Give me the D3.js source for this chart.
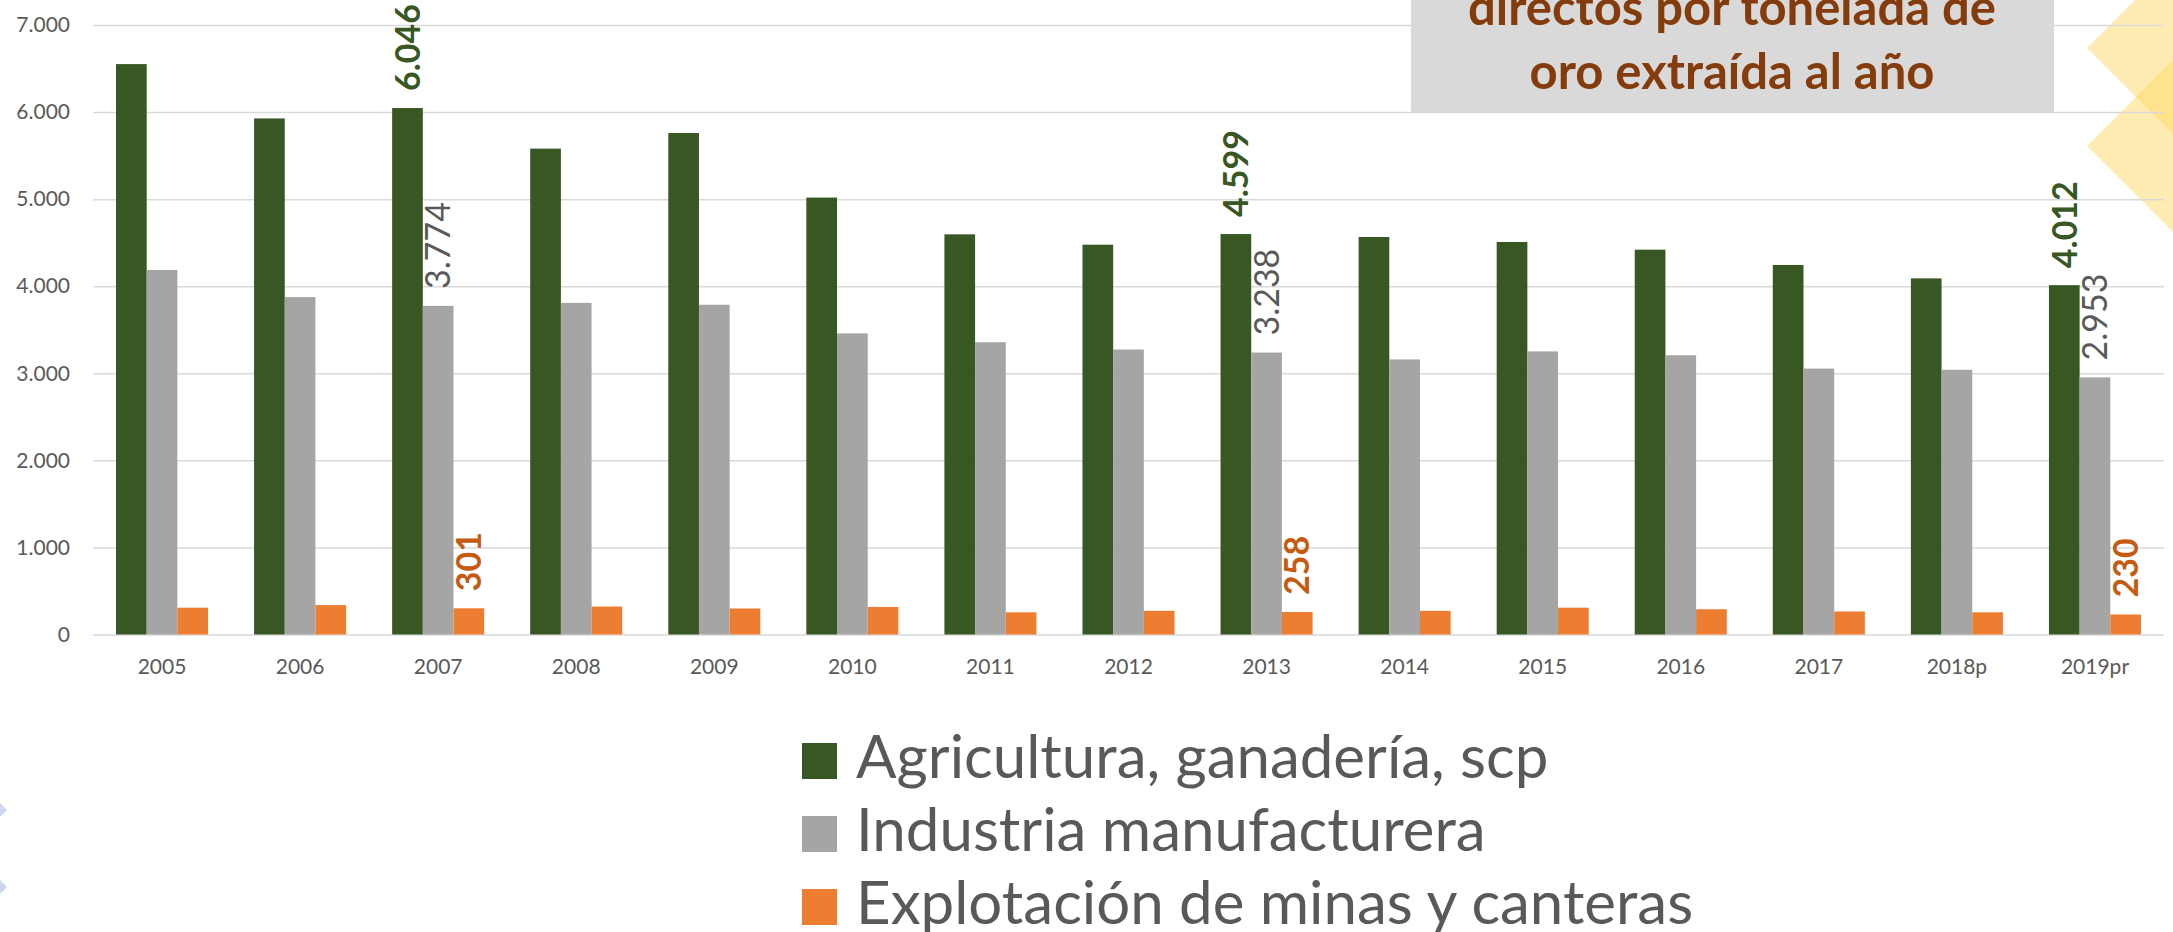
<!DOCTYPE html>
<html>
<head>
<meta charset="utf-8">
<script src="https://cdn.jsdelivr.net/npm/d3@7"></script>
<style>
  html, body { margin: 0; padding: 0; background: #fff; }
  svg { display: block; }
</style>
</head>
<body>
<div id="chart"></div>
<script>
var years = ["2005", "2006", "2007", "2008", "2009", "2010", "2011", "2012", "2013", "2014", "2015", "2016", "2017", "2018p", "2019pr"];
var agricultura = [6551, 5927, 6046, 5580, 5760, 5018, 4596, 4477, 4599, 4565, 4508, 4420, 4244, 4090, 4012];
var industria = [4187, 3875, 3774, 3809, 3787, 3458, 3357, 3273, 3238, 3159, 3251, 3207, 3054, 3040, 2953];
var mineria = [308, 338, 301, 321, 299, 316, 255, 272, 258, 272, 308, 290, 264, 255, 230];
var seriesNames = ["Agricultura, ganadería, scp", "Industria manufacturera", "Explotación de minas y canteras"];
var seriesColors = ["#385723", "#a5a5a5", "#ed7d31"];
var labelColors = ["#385723", "#595959", "#c55a11"];
var labelWeights = ["bold", "normal", "bold"];
var yTicks = [0, 1000, 2000, 3000, 4000, 5000, 6000, 7000];
var labeledYears = ["2007", "2013", "2019pr"];
var titleLines = ["directos por tonelada de", "oro extraída al año"];

var width = 2173,
    height = 932,
    plot = {left: 93, right: 2164, top: 25, bottom: 634.5};

var locale = d3.formatLocale({decimal: ",", thousands: ".", grouping: [3], currency: ["", ""]}),
    fmt = locale.format(",d");

var rows = years.map(function (y, i) {
  return {year: y, values: [agricultura[i], industria[i], mineria[i]]};
});

var svg = d3.select("#chart")
  .append("svg")
  .attr("width", width)
  .attr("height", height)
  .style("font-family", "Lato, 'Open Sans', sans-serif");

svg.append("rect").attr("width", width).attr("height", height).attr("fill", "#fff");

var x = d3.scaleBand()
  .domain(years)
  .range([plot.left, plot.right])
  .paddingInner(1 / 3)
  .paddingOuter(1 / 6);

var x1 = d3.scaleBand()
  .domain([0, 1, 2])
  .range([0, x.bandwidth()]);

var y = d3.scaleLinear()
  .domain([0, 7000])
  .range([plot.bottom, plot.top]);

// decorative diamonds (slide background)
var deco = svg.append("g");
[[2087, 48, 105], [2087, 146, 105]].forEach(function (d) {
  deco.append("path")
    .attr("d", "M" + d[0] + "," + d[1] + "l" + d[2] + "," + (-d[2]) + "l" + d[2] + "," + d[2] + "l" + (-d[2]) + "," + d[2] + "z")
    .attr("fill", "#ffd966")
    .attr("opacity", 0.5);
});
[[7, 810], [7, 887]].forEach(function (d) {
  deco.append("path")
    .attr("d", "M" + d[0] + "," + d[1] + "l-12,-12l-12,12l12,12z")
    .attr("fill", "#b4c7e7")
    .attr("opacity", 0.7);
});

// y axis + gridlines
var yAxis = svg.append("g")
  .attr("transform", "translate(" + plot.left + ",0)")
  .call(d3.axisLeft(y).tickValues(yTicks).tickFormat(fmt)
    .tickSize(-(plot.right - plot.left)).tickPadding(23));
yAxis.select(".domain").remove();
yAxis.selectAll(".tick line").attr("stroke", "#d9d9d9").attr("stroke-width", 1.5);
yAxis.selectAll(".tick text")
  .attr("fill", "#595959")
  .style("font-size", "21px")
  .style("font-family", "Lato, sans-serif");

var xAxis = svg.append("g")
  .attr("transform", "translate(0," + plot.bottom + ")")
  .call(d3.axisBottom(x).tickSize(0).tickPadding(25));
xAxis.select(".domain").remove();
xAxis.selectAll(".tick text")
  .attr("fill", "#595959")
  .style("font-size", "21px")
  .style("font-family", "Lato, sans-serif");

// bars
var groups = svg.append("g").selectAll("g")
  .data(rows)
  .enter().append("g")
  .attr("transform", function (d) { return "translate(" + x(d.year) + ",0)"; });

groups.selectAll("rect")
  .data(function (d) { return d.values.map(function (v, k) { return {k: k, v: v, year: d.year}; }); })
  .enter().append("rect")
  .attr("x", function (d) { return x1(d.k); })
  .attr("width", x1.bandwidth())
  .attr("y", function (d) { return y(d.v); })
  .attr("height", function (d) { return y(0) - y(d.v); })
  .attr("fill", function (d) { return seriesColors[d.k]; });

// data labels, rotated
groups.filter(function (d) { return labeledYears.indexOf(d.year) >= 0; })
  .selectAll("text")
  .data(function (d) { return d.values.map(function (v, k) { return {k: k, v: v}; }); })
  .enter().append("text")
  .attr("transform", function (d) {
    return "translate(" + (x1(d.k) + x1.bandwidth() / 2) + "," + (y(d.v) - 17) + ") rotate(-90)";
  })
  .attr("dy", "0.36em")
  .attr("text-anchor", "start")
  .attr("fill", function (d) { return labelColors[d.k]; })
  .style("font-weight", function (d) { return labelWeights[d.k]; })
  .style("font-size", "34px")
  .text(function (d) { return fmt(d.v); });

// title box
svg.append("rect")
  .attr("x", 1411).attr("y", -10)
  .attr("width", 643).attr("height", 123)
  .attr("fill", "#d9d9d9");
svg.selectAll(".title")
  .data(titleLines)
  .enter().append("text")
  .attr("class", "title")
  .attr("x", 1732)
  .attr("y", function (d, i) { return 25 + i * 64; })
  .attr("text-anchor", "middle")
  .attr("fill", "#843c0c")
  .style("font-weight", "bold")
  .style("font-size", "49px")
  .text(function (d) { return d; });

// legend
var legend = svg.append("g").selectAll("g")
  .data(seriesNames)
  .enter().append("g")
  .attr("transform", function (d, i) { return "translate(802," + (743 + i * 73) + ")"; });
legend.append("rect")
  .attr("width", 35).attr("height", 36)
  .attr("fill", function (d, i) { return seriesColors[i]; });
legend.append("text")
  .attr("x", 54)
  .attr("y", 35)
  .attr("fill", "#595959")
  .style("font-size", "60px")
  .text(function (d) { return d; });
</script>
</body>
</html>
